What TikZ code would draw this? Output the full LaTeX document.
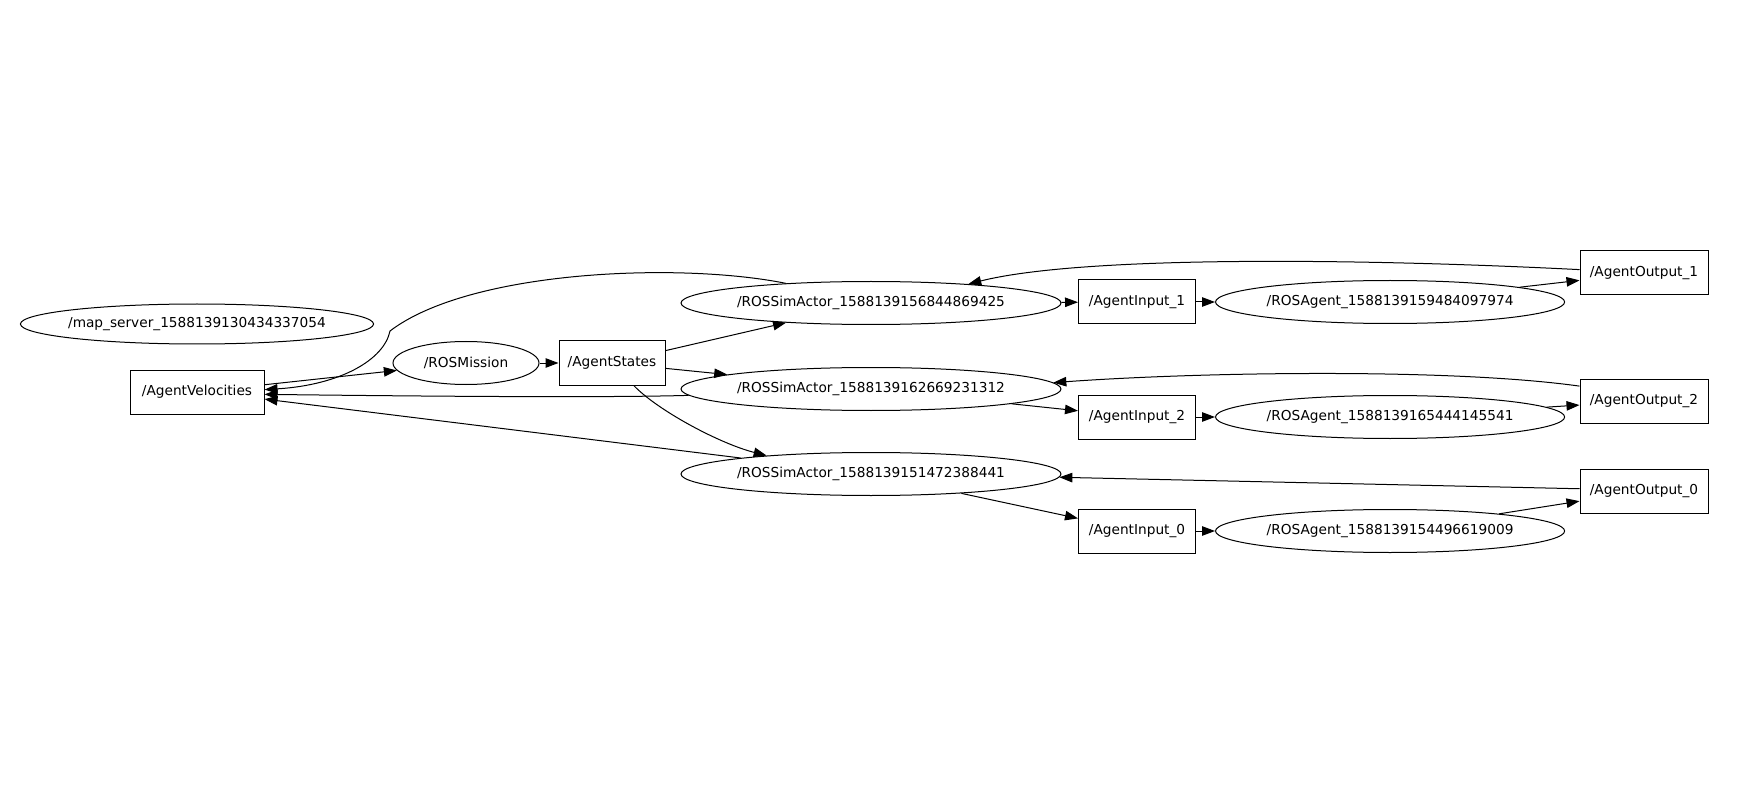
\documentclass[tikz,border=0pt]{standalone}
\usepackage{fontspec}
\setmainfont{DejaVu Sans}
\usetikzlibrary{arrows.meta,positioning,shapes.geometric}

\begin{document}
\begin{tikzpicture}[
  x=1pt,y=-1pt,
  font=\fontsize{13.7pt}{16pt}\selectfont,
  rosnode/.style={draw,ellipse,line width=1pt,inner sep=0pt,
    minimum width=380pt,minimum height=43pt},
  agentnode/.style={rosnode,minimum width=346pt},
  topic/.style={draw,rectangle,line width=1pt,inner sep=0pt,minimum height=44pt},
  line/.style={-{Triangle[length=13pt,width=9.5pt]},line width=1pt}]
\useasboundingbox (0,0) rectangle (1746,802);
\node[rosnode,minimum width=352pt,minimum height=40pt,inner xsep=-4pt] (mapserver) at (197,324) {/map\_server\_1588139130434337054};
\node[topic,minimum width=134pt] (velocities) at (197,392) {/AgentVelocities};
\node[rosnode,minimum width=146pt] (mission) at (466,363) {/ROSMission};
\node[topic,minimum width=106pt,right=19pt of mission] (states) {/AgentStates};
\node[rosnode] (simone) at (871,303) {/ROSSimActor\_1588139156844869425};
\node[rosnode] (simtwo) at (871,389) {/ROSSimActor\_1588139162669231312};
\node[rosnode] (simzero) at (871,474) {/ROSSimActor\_1588139151472388441};
\node[topic,minimum width=117pt] (inputone) at (1137,302) {/AgentInput\_1};
\node[topic,minimum width=117pt] (inputtwo) at (1137,417) {/AgentInput\_2};
\node[topic,minimum width=117pt] (inputzero) at (1137,531) {/AgentInput\_0};
\node[agentnode,right=19pt of inputone] (agentone) {/ROSAgent\_1588139159484097974};
\node[agentnode,right=19pt of inputtwo] (agenttwo) {/ROSAgent\_1588139165444145541};
\node[agentnode,right=19pt of inputzero] (agentzero) {/ROSAgent\_1588139154496619009};
\node[topic,minimum width=128pt] (outputone) at (1644,273) {/AgentOutput\_1};
\node[topic,minimum width=128pt] (outputtwo) at (1644,401) {/AgentOutput\_2};
\node[topic,minimum width=128pt] (outputzero) at (1644,491) {/AgentOutput\_0};
\draw[line] (velocities) -- (mission);
\draw[line] (mission) -- (states);
\draw[line] (states) -- (simone);
\draw[line] (states) -- (simtwo);
\draw[line] (states.-46) .. controls +(24,25) and +(-47,-12) .. (simzero.170);
\draw[line] (simone.167) .. controls (680,262) and (470,270) .. (390,331)
  .. controls (384,360) and (340,385) .. (velocities.2);
\draw[line] (simtwo.182) .. controls (600,398) and (400,396) .. (velocities.-2);
\draw[line] (simzero.173) -- (velocities.-6);
\draw[line] (simone) -- (inputone);
\draw[line] (simtwo) -- (inputtwo);
\draw[line] (simzero) -- (inputzero);
\draw[line] (inputone) -- (agentone);
\draw[line] (inputtwo) -- (agenttwo);
\draw[line] (inputzero) -- (agentzero);
\draw[line] (agentone) -- (outputone);
\draw[line] (agenttwo) -- (outputtwo);
\draw[line] (agentzero) -- (outputzero);
\draw[line] (outputone.177) .. controls (1350,258) and (1080,256) .. (simone.11);
\draw[line] (outputtwo.167) .. controls (1450,368) and (1200,372) .. (simtwo.2);
\draw[line] (outputzero.178) -- (simzero.-1);
\end{tikzpicture}
\end{document}
